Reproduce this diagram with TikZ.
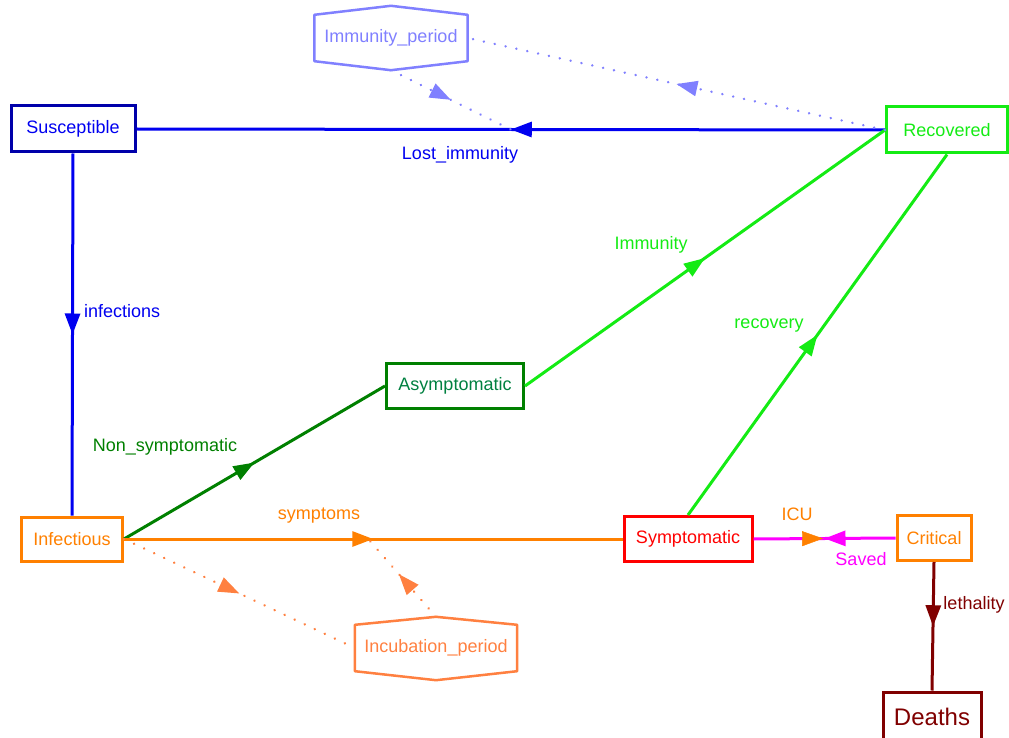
\documentclass[tikz,border=0pt]{standalone}
\usepackage{fontspec}
\setmainfont{Liberation Sans}
\usetikzlibrary{arrows.meta,decorations.markings}
\definecolor{susborder}{RGB}{0,0,170}
\definecolor{susblue}{RGB}{0,0,240}
\definecolor{recgreen}{RGB}{20,235,20}
\definecolor{immcol}{RGB}{128,128,255}
\definecolor{infor}{RGB}{255,128,0}
\definecolor{inccol}{RGB}{255,128,64}
\definecolor{asyborder}{RGB}{0,128,0}
\definecolor{asytext}{RGB}{0,128,64}
\definecolor{symred}{RGB}{255,0,0}
\definecolor{deared}{RGB}{128,0,0}
\definecolor{savedmag}{RGB}{255,0,255}
\tikzset{
  box/.style={draw, line width=3pt, inner sep=0pt, font=\fontsize{18}{21}\selectfont},
  hexnode/.style={inner sep=0pt, font=\fontsize{18}{21}\selectfont},
  hexline/.style={line width=2.5pt, line join=round},
  flow/.style={line width=3pt},
  link/.style={line width=2.6pt, line cap=round, dash pattern=on 0.1pt off 11pt},
  midarrow/.style={postaction={decorate},decoration={markings,mark=at position #1 with {\arrow{Triangle[length=21pt,width=15pt]}}}},
  lbl/.style={inner sep=0pt, font=\fontsize{18}{21}\selectfont}
}
\begin{document}
\begin{tikzpicture}[x=1pt,y=-1pt]
\useasboundingbox (0,0) rectangle (1009,738);
% stocks
\node[box, draw=susborder, text=susblue, minimum width=124pt, minimum height=46pt] (sus) at (73,129) {Susceptible};
\node[box, draw=recgreen, text=recgreen, minimum width=121pt, minimum height=46pt] (rec) at (947,130) {Recovered};
\node[box, draw=infor, text=infor, minimum width=101pt, minimum height=44pt] (inf) at (72,539) {Infectious};
\node[box, draw=asyborder, text=asytext, minimum width=137pt, minimum height=45pt] (asy) at (455,386) {Asymptomatic};
\node[box, draw=symred, text=symred, minimum width=128pt, minimum height=45pt] (sym) at (688,539) {Symptomatic};
\node[box, draw=infor, text=infor, minimum width=74pt, minimum height=45pt] (cri) at (934,538) {Critical};
\node[box, draw=deared, text=deared, minimum width=98pt, minimum height=50pt, font=\fontsize{24}{28}\selectfont] (dea) at (932,717) {Deaths};
% auxiliaries (hexagons)
\node[hexnode, text=immcol, minimum width=153pt, minimum height=46pt] (imm) at (391,38) {Immunity\_period};
\draw[hexline, immcol] (imm.north west) -- ([yshift=9pt]imm.north) -- (imm.north east) -- (imm.south east) -- ([yshift=-9pt]imm.south) -- (imm.south west) -- cycle;
\node[hexnode, text=inccol, minimum width=162pt, minimum height=46pt] (inc) at (436,648) {Incubation\_period};
\draw[hexline, inccol] (inc.north west) -- ([yshift=8pt]inc.north) -- (inc.north east) -- (inc.south east) -- ([yshift=-9pt]inc.south) -- (inc.south west) -- cycle;
% flows
\draw[flow, susblue, midarrow=0.5] (rec.west) -- (sus.east);
\draw[flow, susblue, midarrow=0.5] (sus.south) -- (inf.north);
\draw[flow, asyborder, midarrow=0.5] (inf.east) -- (asy.west);
\draw[flow, recgreen, midarrow=0.5] (asy.east) -- (rec.west);
\draw[flow, infor, midarrow=0.5] (inf.east) -- (sym.west);
\draw[flow, recgreen, midarrow=0.5] (sym.north) -- (rec.south);
\draw[flow, savedmag, midarrow=0.5] (cri.west) -- (sym.east);
\path[postaction={decorate},decoration={markings,mark=at position 0.49 with {\arrow[infor]{Triangle[length=21pt,width=15pt]}}}] (sym.east) -- (cri.west);
\draw[flow, deared, midarrow=0.5] (cri.south) -- (dea.north);
% flow mid points
\path (rec.west) -- (sus.east) coordinate[pos=0.5] (lostmid);
\path (inf.east) -- (sym.west) coordinate[pos=0.49] (sympmid);
% links
\draw[link, immcol, midarrow=0.5] ([yshift=-9pt]imm.south) -- (lostmid);
\draw[link, immcol, midarrow=0.5] (rec.west) -- (imm.east);
\draw[link, inccol, midarrow=0.5] (inf.east) -- (inc.west);
\draw[link, inccol, midarrow=0.55] ([yshift=8pt]inc.north) -- (sympmid);
% labels
\node[lbl, text=susblue] (llost) at (460,155) {Lost\_immunity};
\node[lbl, text=susblue, anchor=west] (linf) at (84,311) {infections};
\node[lbl, text=recgreen] (limm) at (651,245) {Immunity};
\node[lbl, text=recgreen] (lrecv) at (769,326) {recovery};
\node[lbl, text=asyborder] (lnon) at (165,447) {Non\_symptomatic};
\node[lbl, text=infor] (lsym) at (319,516) {symptoms};
\node[lbl, text=infor] (licu) at (797,514) {ICU};
\node[lbl, text=savedmag] (lsav) at (861,559) {Saved};
\node[lbl, text=deared] (lleth) at (974,605) {lethality};
\end{tikzpicture}
\end{document}
